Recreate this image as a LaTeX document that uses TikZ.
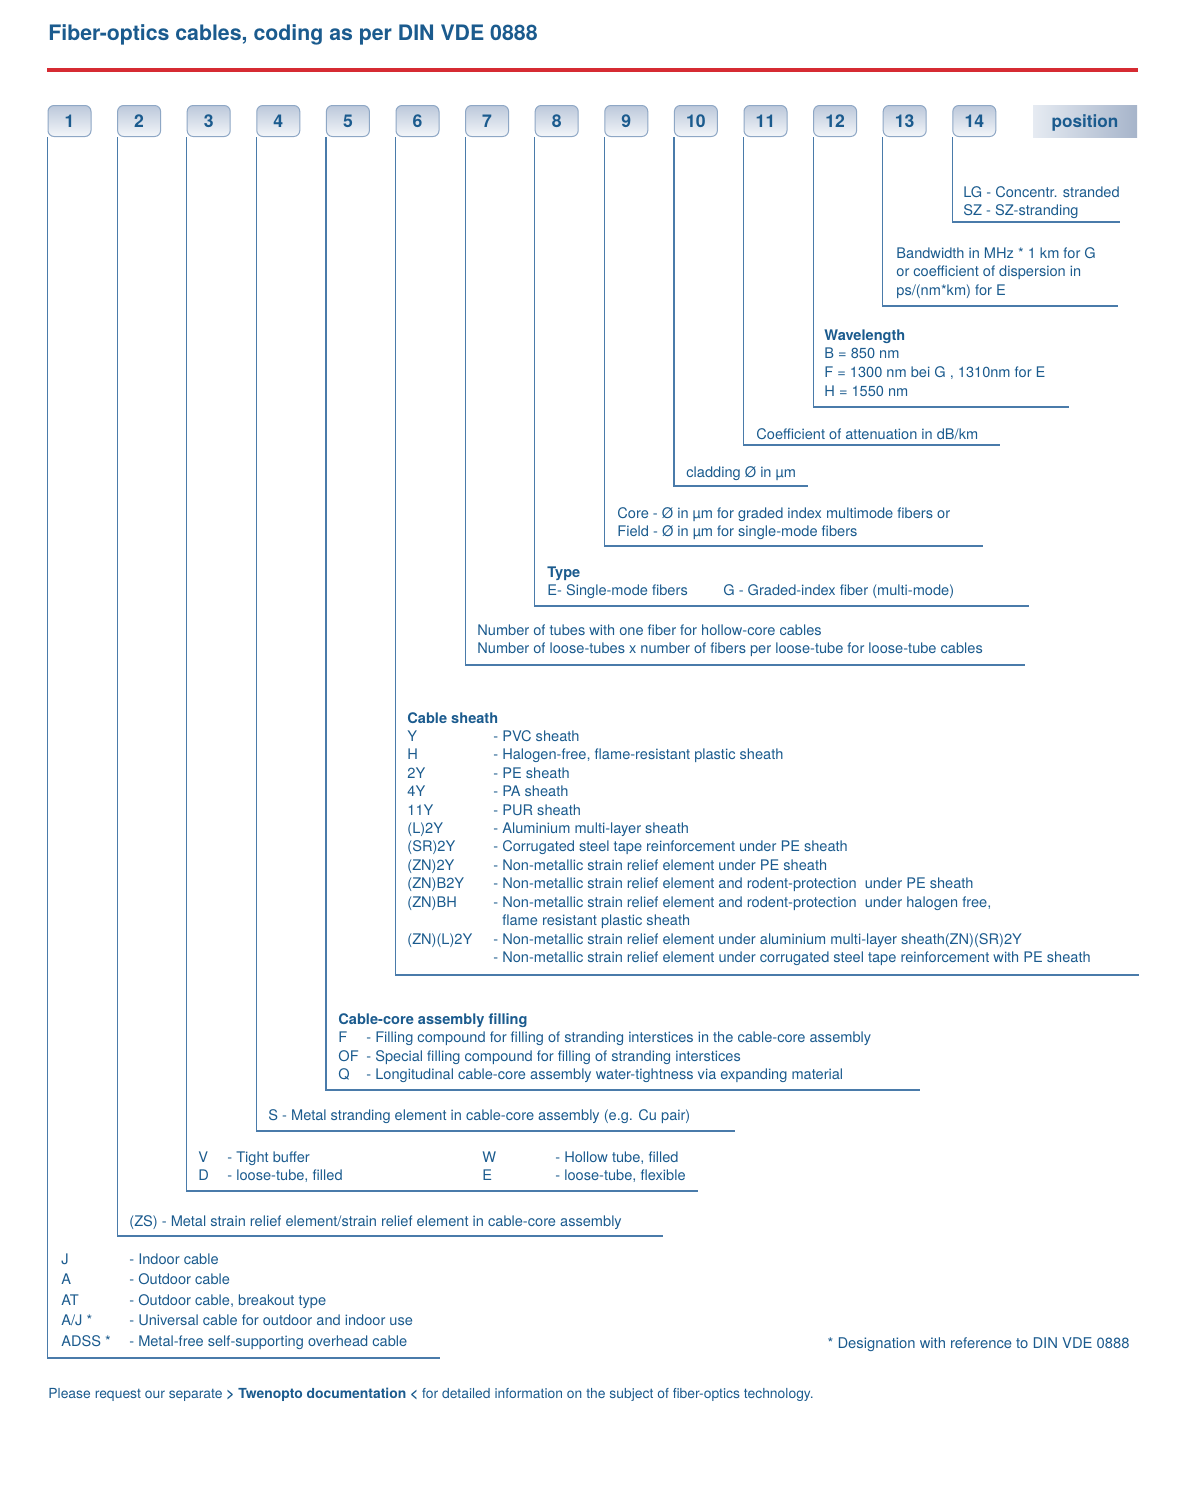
\documentclass[tikz,border=0pt]{standalone}
\usepackage{fontspec}
\setmainfont{TeX Gyre Heros}
\usepackage{tikz}
\usetikzlibrary{positioning}
\definecolor{dinblue}{HTML}{1B5B8E}
\definecolor{dinline}{HTML}{4A7BAA}
\definecolor{dinred}{HTML}{D62B32}
\definecolor{boxtop}{HTML}{BCC8DA}
\definecolor{boxbot}{HTML}{F3F6FA}
\definecolor{boxedge}{HTML}{8EA7C5}
\definecolor{tagleft}{HTML}{E6EBF2}
\definecolor{tagright}{HTML}{A6B4CA}
\newcommand{\codeitem}[3]{\makebox[#1][l]{#2}#3}
\newcommand{\rows}[1]{\begin{tabular}[t]{@{}l@{}}#1\end{tabular}}
\tikzset{
  posbox/.style={rounded corners=3pt, draw=boxedge, top color=boxtop, bottom color=boxbot, line width=0.5pt, minimum width=21.5pt, minimum height=15.5pt, inner sep=0pt, font=\fontsize{8.8}{10}\selectfont\bfseries, text=dinblue},
  postag/.style={left color=tagleft, right color=tagright, minimum width=52pt, minimum height=16pt, inner sep=0pt, text depth=0pt, font=\fontsize{8.6}{10}\selectfont\bfseries, text=dinblue},
  legend/.style={anchor=base west, inner sep=0pt, text=dinblue, font=\fontsize{7.3}{9.25}\selectfont},
  bracket/.style={draw=dinline, line width=0.6pt}
}
\begin{document}
\begin{tikzpicture}[x=0.5pt,y=-0.5pt]
  \fill[white] (0,0) rectangle (1180,1490);
  \useasboundingbox (0,0) rectangle (1180,1490);
  \node[anchor=base west, inner sep=0pt, text=dinblue, font=\fontsize{10.65}{12}\selectfont\bfseries] (title) at (48,40) {Fiber-optics cables, coding as per DIN VDE 0888};
  \draw[dinred, line width=1.6pt] (47,70) -- (1138,70);
  \foreach \i in {1,...,14}
    \node[posbox] (p\i) at ({69.5+(\i-1)*69.6},121) {\i};
  \node[postag] (tag) at (1085,121) {position};
  \foreach \i/\xe/\yb in {1/440/1358, 2/663/1236, 3/698/1191, 4/735/1131, 5/920/1090, 6/1139/975, 7/1025/665,
      8/1029/606, 9/983/546, 10/808/486, 11/1000/445, 12/1069/407, 13/1118/306, 14/1120/222} {
    \coordinate (e\i) at (\xe,\yb);
    \draw[bracket] (p\i.south west) |- (e\i);
  }
  \node[legend] (t14) at (963,197) {\rows{LG - Concentr. stranded\\SZ - SZ-stranding}};
  \node[legend] (t13) at (896,258) {\rows{Bandwidth in MHz * 1 km for G\\or coefficient of dispersion in\\ps/(nm*km) for E}};
  \node[legend, font=\fontsize{7.3}{9.35}\selectfont] (t12) at (824,340) {\rows{\textbf{Wavelength}\\B = 850 nm\\F = 1300 nm bei G , 1310nm for E\\H = 1550 nm}};
  \node[legend] (t11) at (756,439) {Coefficient of attenuation in dB/km};
  \node[legend] (t10) at (686,477) {cladding Ø in µm};
  \node[legend] (t9) at (617,518) {\rows{Core - Ø in µm for graded index multimode fibers or\\Field - Ø in µm for single-mode fibers}};
  \node[legend] (t8) at (547,577) {\rows{\textbf{Type}\\E- Single-mode fibers}};
  \node[legend] (t8b) at (723,595) {G - Graded-index fiber (multi-mode)};
  \node[legend] (t7) at (477,635) {\rows{Number of tubes with one fiber for hollow-core cables\\Number of loose-tubes x number of fibers per loose-tube for loose-tube cables}};
  \node[legend, font=\fontsize{7.3}{9.21}\selectfont] (t6) at (407,723) {\rows{\textbf{Cable sheath}\\
    \codeitem{43pt}{Y}{- PVC sheath}\\
    \codeitem{43pt}{H}{- Halogen-free, flame-resistant plastic sheath}\\
    \codeitem{43pt}{2Y}{- PE sheath}\\
    \codeitem{43pt}{4Y}{- PA sheath}\\
    \codeitem{43pt}{11Y}{- PUR sheath}\\
    \codeitem{43pt}{(L)2Y}{- Aluminium multi-layer sheath}\\
    \codeitem{43pt}{(SR)2Y}{- Corrugated steel tape reinforcement under PE sheath}\\
    \codeitem{43pt}{(ZN)2Y}{- Non-metallic strain relief element under PE sheath}\\
    \codeitem{43pt}{(ZN)B2Y}{- Non-metallic strain relief element and rodent-protection\ \ under PE sheath}\\
    \codeitem{43pt}{(ZN)BH}{- Non-metallic strain relief element and rodent-protection\ \ under halogen free,}\\
    \codeitem{43pt}{}{\phantom{- }flame resistant plastic sheath}\\
    \codeitem{43pt}{(ZN)(L)2Y}{- Non-metallic strain relief element under aluminium multi-layer sheath(ZN)(SR)2Y}\\
    \codeitem{43pt}{}{- Non-metallic strain relief element under corrugated steel tape reinforcement with PE sheath}}};
  \node[legend] (t5) at (338,1024) {\rows{\textbf{Cable-core assembly filling}\\
    \codeitem{14pt}{F}{- Filling compound for filling of stranding interstices in the cable-core assembly}\\
    \codeitem{14pt}{OF}{- Special filling compound for filling of stranding interstices}\\
    \codeitem{14pt}{Q}{- Longitudinal cable-core assembly water-tightness via expanding material}}};
  \node[legend] (t4) at (268,1120) {S - Metal stranding element in cable-core assembly (e.g. Cu pair)};
  \node[legend] (t3) at (198,1162) {\rows{\codeitem{14.5pt}{V}{- Tight buffer}\\\codeitem{14.5pt}{D}{- loose-tube, filled}}};
  \node[legend] (t3b) at (482,1162) {\rows{\codeitem{36.5pt}{W}{- Hollow tube, filled}\\\codeitem{36.5pt}{E}{- loose-tube, flexible}}};
  \node[legend] (t2) at (129,1226) {(ZS) - Metal strain relief element/strain relief element in cable-core assembly};
  \node[legend, font=\fontsize{7.3}{10.25}\selectfont] (t1) at (61,1264) {\rows{\codeitem{34pt}{J}{- Indoor cable}\\
    \codeitem{34pt}{A}{- Outdoor cable}\\
    \codeitem{34pt}{AT}{- Outdoor cable, breakout type}\\
    \codeitem{34pt}{A/J *}{- Universal cable for outdoor and indoor use}\\
    \codeitem{34pt}{ADSS *}{- Metal-free self-supporting overhead cable}}};
  \node[legend, anchor=base east, font=\fontsize{7.4}{9}\selectfont] (note) at (1130,1348) {* Designation with reference to DIN VDE 0888};
  \node[legend, font=\fontsize{6.95}{8}\selectfont] (footer) at (48,1398) {Please request our separate \textbf{> Twenopto documentation <} for detailed information on the subject of fiber-optics technology.};
\end{tikzpicture}
\end{document}
